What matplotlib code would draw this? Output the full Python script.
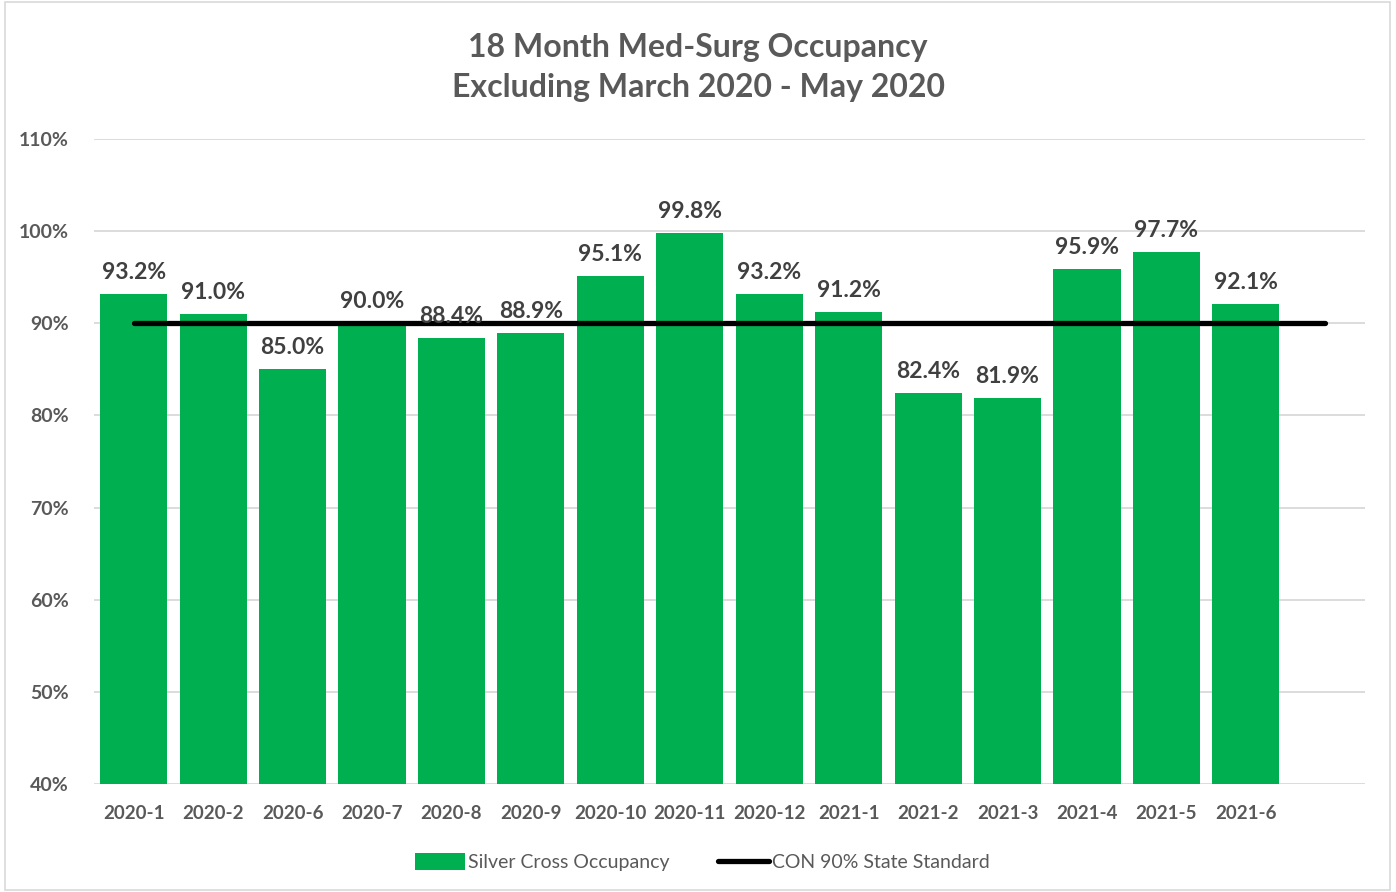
import matplotlib.pyplot as plt
from matplotlib.patches import Rectangle
from matplotlib.ticker import FuncFormatter

plt.rcParams['font.family'] = ['Lato', 'DejaVu Sans']

months = ['2020-1', '2020-2', '2020-6', '2020-7', '2020-8', '2020-9', '2020-10',
          '2020-11', '2020-12', '2021-1', '2021-2', '2021-3', '2021-4', '2021-5', '2021-6']
occupancy = [93.2, 91.0, 85.0, 90.0, 88.4, 88.9, 95.1, 99.8, 93.2, 91.2, 82.4, 81.9, 95.9, 97.7, 92.1]
# the standard line has one more point than there are bars
standard = [90.0] * 16

green = '#00B050'
gray = '#595959'

fig = plt.figure(figsize=(13.96, 8.92), dpi=100)
ax = fig.add_axes([94 / 1396, 1 - 784 / 892, (1365 - 94) / 1396, (784 - 139) / 892])

x = list(range(len(months)))
bars = ax.bar(x, occupancy, width=0.845, color=green, zorder=2, label='Silver Cross Occupancy')
line, = ax.plot(range(len(standard)), standard, color='black', lw=3.8, solid_capstyle='round',
                zorder=3, label='CON 90% State Standard')

for xi, v in zip(x, occupancy):
    ax.annotate(f'{v:.1f}%', (xi, v), xytext=(0, 8), textcoords='offset points',
                ha='center', va='bottom', fontsize=16.5, fontweight='bold', color='#404040',
                zorder=4)

ax.set_xlim(-0.5, 15.5)
ax.set_ylim(40, 110)
ax.set_yticks(range(40, 111, 10))
ax.yaxis.set_major_formatter(FuncFormatter(lambda v, p: f'{v:.0f}%'))
ax.set_xticks(x)
ax.set_xticklabels(months)
ax.tick_params(axis='both', length=0, colors=gray)
ax.tick_params(axis='x', pad=15, labelsize=13.5)
ax.tick_params(axis='y', pad=18, labelsize=14)
for lbl in ax.get_xticklabels() + ax.get_yticklabels():
    lbl.set_fontweight('bold')

ax.grid(axis='y', color='#D9D9D9', lw=1.3, zorder=0)
ax.set_axisbelow(True)
for s in ax.spines.values():
    s.set_visible(False)

fig.text(0.5, 1 - 48 / 892, '18 Month Med-Surg Occupancy', ha='center', va='center',
         fontsize=23, fontweight='bold', color=gray)
fig.text(0.5, 1 - 88 / 892, 'Excluding March 2020 - May 2020', ha='center', va='center',
         fontsize=23, fontweight='bold', color=gray)

fig.legend([bars, line], ['Silver Cross Occupancy', 'CON 90% State Standard'],
           loc='center', bbox_to_anchor=(0.503, 1 - 862 / 892), ncol=2, frameon=False,
           fontsize=14, labelcolor=gray, handlelength=2.6, handleheight=1.0,
           handletextpad=0.15, columnspacing=2.5)

fig.patches.append(Rectangle((5 / 1396, 0.002), 1385 / 1396, 0.996, transform=fig.transFigure,
                             fill=False, edgecolor='#D9D9D9', lw=1.2))

fig.savefig('out.png', dpi=100)
